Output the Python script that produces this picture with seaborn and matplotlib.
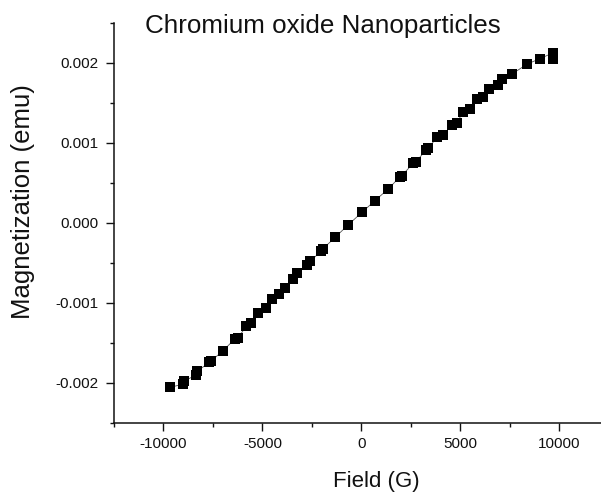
import matplotlib
matplotlib.use("Agg")
import matplotlib.pyplot as plt
import seaborn as sns
import numpy as np
import pandas as pd
from matplotlib.ticker import MultipleLocator, FixedLocator

# Data (Field in G, Magnetization in emu)
field = [-9662, -9005, -8950, -8348, -8298, -7677, -7591, -7000, -6379, -6212,
         -5823, -5586, -5202, -4813, -4495, -4141, -3854, -3465, -3232, -2758,
         -2591, -2035, -1949, -1328, -657, 20, 692, 1364, 1955, 2040,
         2626, 2763, 3268, 3384, 3838, 4141, 4566, 4818, 5152, 5490,
         5828, 6162, 6465, 6919, 7091, 7596, 8354, 9025, 9667, 9667]
magnetization = [-2.055e-3, -2.013e-3, -1.973e-3, -1.902e-3, -1.852e-3, -1.743e-3, -1.724e-3,
                 -1.599e-3, -1.445e-3, -1.432e-3, -1.288e-3, -1.254e-3, -1.121e-3, -1.059e-3,
                 -0.955e-3, -0.884e-3, -0.809e-3, -0.697e-3, -0.631e-3, -0.519e-3, -0.478e-3,
                 -0.354e-3, -0.324e-3, -0.179e-3, -0.021e-3, 0.132e-3, 0.281e-3, 0.427e-3,
                 0.580e-3, 0.593e-3, 0.747e-3, 0.767e-3, 0.913e-3, 0.934e-3, 1.078e-3,
                 1.100e-3, 1.224e-3, 1.253e-3, 1.390e-3, 1.420e-3, 1.544e-3, 1.569e-3,
                 1.669e-3, 1.722e-3, 1.806e-3, 1.859e-3, 1.984e-3, 2.055e-3, 2.125e-3, 2.055e-3]
x_ticks = [-10000, -5000, 0, 5000, 10000]
x_ticklabels = ["-10000", "-5000", "0", "5000", "10000"]
y_ticks = [-0.002, -0.001, 0.0, 0.001, 0.002]
y_ticklabels = ["-0.002", "-0.001", "0.000", "0.001", "0.002"]

df = pd.DataFrame({"Field": field, "Magnetization": magnetization})

sns.set_style("ticks")
plt.rcParams["font.family"] = ["Liberation Sans", "DejaVu Sans"]

fig = plt.figure(figsize=(6.01, 4.95), dpi=100)
ax = fig.add_axes([114 / 601, 1 - 423 / 495, (608.8 - 114) / 601, (423 - 23) / 495])

sns.lineplot(data=df, x="Field", y="Magnetization", ax=ax, sort=False, estimator=None,
             color="#555555", linewidth=0.6, zorder=2)
sns.scatterplot(data=df, x="Field", y="Magnetization", ax=ax, marker="s", s=44,
                color="black", edgecolor="black", linewidth=0, zorder=3)

ax.set_xlim(-12500, 12500)
ax.set_ylim(-0.0025, 0.0025)
ax.xaxis.set_major_locator(FixedLocator(x_ticks))
ax.set_xticklabels(x_ticklabels)
ax.yaxis.set_major_locator(FixedLocator(y_ticks))
ax.set_yticklabels(y_ticklabels)
ax.xaxis.set_minor_locator(MultipleLocator(2500))
ax.yaxis.set_minor_locator(MultipleLocator(0.0005))

for s in ["top", "right"]:
    ax.spines[s].set_visible(False)
for s in ["left", "bottom"]:
    ax.spines[s].set_linewidth(1.1)
    ax.spines[s].set_color("#111111")

ax.tick_params(which="major", direction="out", length=6, width=1.0, labelsize=11,
               color="#111111", labelcolor="#111111")
ax.tick_params(axis="y", which="major", pad=5)
ax.tick_params(axis="x", which="major", pad=4)
ax.tick_params(which="minor", direction="out", length=3, width=1.0, color="#111111")

ax.set_xlabel("")
ax.set_ylabel("")
fig.text(376.5 / 601, 1 - 481 / 495, "Field (G)", ha="center", va="center", fontsize=16,
         color="#111111")
fig.text(23 / 601, 1 - 202 / 495, "Magnetization (emu)", ha="center", va="center",
         rotation=90, fontsize=18.5, color="#111111")
fig.text(322.5 / 601, 1 - 33 / 495, "Chromium oxide Nanoparticles", ha="center",
         va="baseline", fontsize=18.7, color="#111111")

fig.savefig("out.png", dpi=100)
